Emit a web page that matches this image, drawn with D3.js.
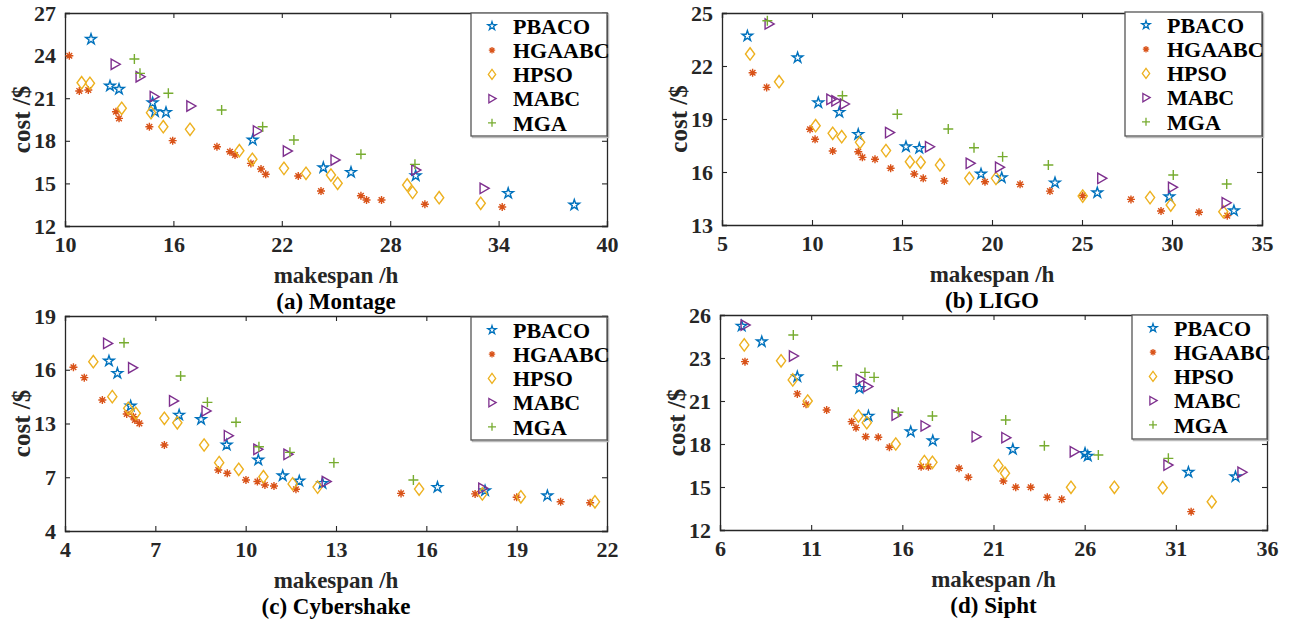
<!DOCTYPE html>
<html>
<head>
<meta charset="utf-8">
<script src="https://cdn.jsdelivr.net/npm/d3@7"></script>
<style>
  body { margin: 0; background: #fff; }
  svg text { font-family: "Liberation Serif", "Times New Roman", serif; font-weight: bold; }
</style>
</head>
<body>
<div id="chart"></div>
<script>
const algorithms = ["PBACO", "HGAABC", "HPSO", "MABC", "MGA"];
const colors = ["#0072BD", "#D95319", "#EDB120", "#7E2F8E", "#77AC30"];
const shapes = ["star", "asterisk", "diamond", "triangle", "plus"];

// [makespan /h, cost /$]
const montagePBACO = [[11.44,25.15],[12.49,21.86],[12.99,21.63],[14.85,20.68],[14.98,20.05],[15.59,20.0],[20.39,18.06],[24.30,16.11],[25.83,15.78],[29.41,15.54],[34.53,14.30],[38.19,13.48]];
const montageHGAABC = [[10.24,23.99],[10.79,21.51],[11.29,21.58],[12.82,20.05],[12.99,19.58],[14.67,18.99],[15.96,18.01],[18.41,17.58],[19.13,17.23],[19.41,17.0],[20.29,16.41],[20.85,16.01],[21.11,15.64],[22.91,15.52],[24.17,14.46],[26.38,14.13],[26.69,13.83],[27.52,13.83],[29.92,13.53],[34.2,13.34]];
const montageHPSO = [[10.92,22.09],[11.38,22.05],[13.14,20.29],[14.76,19.98],[15.44,18.99],[16.92,18.81],[19.65,17.3],[20.37,16.7],[22.12,16.06],[23.34,15.71],[24.72,15.59],[25.09,15.01],[28.94,14.89],[29.24,14.37],[30.71,13.99],[33.01,13.6]];
const montageMABC = [[12.77,23.39],[14.15,22.51],[14.93,21.11],[16.96,20.45],[20.64,18.69],[22.3,17.28],[24.94,16.65],[29.41,15.94],[33.19,14.65]];
const montageMGA = [[13.84,23.76],[14.15,22.75],[15.72,21.35],[18.67,20.17],[20.94,18.99],[22.67,18.06],[26.38,17.05],[29.37,16.34]];

const ligoPBACO = [[6.41,23.7],[9.2,22.47],[10.35,19.92],[11.52,19.38],[12.57,18.13],[15.22,17.43],[15.96,17.34],[19.39,15.89],[20.54,15.68],[23.5,15.39],[25.85,14.83],[29.85,14.6],[33.44,13.81]];
const ligoHGAABC = [[6.7,21.62],[7.48,20.79],[9.89,18.42],[10.17,17.85],[11.15,17.19],[12.57,17.15],[12.8,16.83],[13.5,16.72],[14.37,16.21],[15.68,15.89],[16.18,15.64],[17.35,15.49],[19.61,15.45],[21.56,15.3],[23.22,14.92],[25.04,14.66],[27.72,14.45],[29.39,13.79],[31.5,13.72],[33.07,13.53]];
const ligoHPSO = [[6.56,22.68],[8.17,21.11],[10.2,18.62],[11.15,18.19],[11.65,18.0],[12.67,17.68],[14.11,17.21],[15.44,16.58],[16.04,16.55],[17.11,16.4],[18.74,15.64],[20.22,15.64],[25.04,14.64],[28.78,14.55],[29.93,14.13],[32.85,13.75]];
const ligoMABC = [[7.61,24.38],[11.04,20.11],[11.32,20.03],[11.79,19.85],[14.3,18.23],[16.52,17.43],[18.78,16.49],[20.41,16.27],[26.09,15.64],[30.02,15.13],[33.0,14.26]];
const ligoMGA = [[7.52,24.56],[11.69,20.32],[14.74,19.27],[17.57,18.43],[19.0,17.37],[20.59,16.87],[23.13,16.4],[30.07,15.83],[33.04,15.32]];

const cyberPBACO = [[5.46,16.49],[5.74,15.8],[6.18,13.98],[7.79,13.47],[8.52,13.23],[9.37,10.6],[10.42,8.93],[11.23,7.17],[11.78,6.79],[12.55,6.66],[16.37,6.44],[17.95,6.25],[20.02,5.97]];
const cyberHGAABC = [[4.28,16.14],[4.64,15.56],[5.24,14.31],[6.05,13.53],[6.27,13.38],[6.32,13.2],[6.47,13.01],[7.3,10.6],[9.09,7.81],[9.39,7.44],[10.01,6.85],[10.39,6.76],[10.64,6.57],[10.94,6.51],[11.67,6.33],[15.16,6.1],[17.62,6.07],[19.0,5.88],[20.46,5.63],[21.44,5.58]];
const cyberHPSO = [[4.94,16.45],[5.57,14.5],[6.1,13.85],[6.35,13.57],[7.3,13.29],[7.73,13.04],[8.62,10.6],[9.12,8.63],[9.77,7.89],[10.59,7.06],[11.56,6.63],[12.39,6.45],[15.76,6.34],[17.86,6.07],[19.14,5.91],[21.6,5.63]];
const cyberMABC = [[5.41,17.47],[6.24,16.11],[7.6,14.26],[8.68,13.7],[9.42,11.64],[10.4,10.12],[11.4,9.56],[12.67,6.76],[17.87,6.38]];
const cyberMGA = [[5.96,17.51],[7.84,15.65],[8.73,14.18],[9.68,13.07],[10.44,10.41],[11.47,9.78],[12.93,8.63],[15.57,6.85]];

const siphtPBACO = [[7.19,25.23],[8.29,24.14],[10.24,22.13],[13.64,21.59],[14.14,19.95],[16.46,18.86],[17.67,18.23],[22.06,17.63],[26.02,17.35],[26.17,17.16],[31.69,16.03],[34.27,15.72]];
const siphtHGAABC = [[7.37,22.83],[10.24,21.33],[10.72,20.77],[11.85,20.37],[13.22,19.56],[13.46,19.14],[13.99,18.51],[14.68,18.47],[15.29,17.77],[17.03,16.42],[17.43,16.42],[19.11,16.31],[19.62,15.68],[21.54,15.42],[22.22,14.98],[23.04,14.98],[23.95,14.28],[24.74,14.14],[31.84,13.28]];
const siphtHPSO = [[7.33,23.91],[9.35,22.87],[9.99,21.98],[10.81,21.0],[13.59,19.95],[14.05,19.49],[15.64,18.0],[17.21,16.77],[17.65,16.72],[21.27,16.49],[21.63,15.96],[25.25,14.98],[27.63,14.98],[30.28,14.95],[32.97,13.97]];
const siphtMABC = [[7.37,25.3],[10.02,23.14],[13.68,22.01],[14.1,21.67],[15.65,20.02],[17.24,19.26],[20.04,18.51],[21.67,18.44],[25.42,17.46],[30.56,16.53],[34.62,16.03]];
const siphtMGA = [[10.02,24.6],[12.43,22.64],[13.95,22.33],[14.45,22.1],[15.78,20.21],[17.65,19.95],[21.67,19.67],[23.79,17.88],[26.75,17.23],[30.59,17.0]];

// tick values (the y labels of (c) and (d) are evenly spaced as in the figure)
const montageXTicks = [10, 16, 22, 28, 34, 40];
const montageYTicks = [12, 15, 18, 21, 24, 27];
const ligoXTicks = [5, 10, 15, 20, 25, 30, 35];
const ligoYTicks = [13, 16, 19, 22, 25];
const cyberXTicks = [4, 7, 10, 13, 16, 19, 22];
const cyberYTicks = [4, 7, 13, 16, 19];
const siphtXTicks = [6, 11, 16, 21, 26, 31, 36];
const siphtYTicks = [12, 15, 18, 21, 23, 26];

const captions = ["(a) Montage", "(b) LIGO", "(c) Cybershake", "(d) Sipht"];

const panels = [
  {series: [montagePBACO, montageHGAABC, montageHPSO, montageMABC, montageMGA], xt: montageXTicks, yt: montageYTicks,
   box: [65, 13, 607, 226], legend: [471, 13, 136, 123]},
  {series: [ligoPBACO, ligoHGAABC, ligoHPSO, ligoMABC, ligoMGA], xt: ligoXTicks, yt: ligoYTicks,
   box: [722, 13, 1262, 225], legend: [1125, 12, 137, 124]},
  {series: [cyberPBACO, cyberHGAABC, cyberHPSO, cyberMABC, cyberMGA], xt: cyberXTicks, yt: cyberYTicks,
   box: [65, 316, 607, 531], legend: [471, 317, 136, 123]},
  {series: [siphtPBACO, siphtHGAABC, siphtHPSO, siphtMABC, siphtMGA], xt: siphtXTicks, yt: siphtYTicks,
   box: [720, 315, 1267, 530], legend: [1132, 315, 135, 124]}
];

const svg = d3.select("#chart").append("svg")
    .attr("width", 1295)
    .attr("height", 620);

function markerPath(shape, s) {
  if (shape === "star") {
    return d3.symbol(d3.symbolStar, 34 * s * s)();
  }
  if (shape === "asterisk") {
    let r = 4 * s, q = r * Math.SQRT1_2;
    return `M${-r},0H${r}M0,${-r}V${r}M${-q},${-q}L${q},${q}M${-q},${q}L${q},${-q}`;
  }
  if (shape === "diamond") {
    let w = 4.6 * s, h = 6.2 * s;
    return `M0,${-h}L${w},0L0,${h}L${-w},0Z`;
  }
  if (shape === "triangle") {
    let r = 5.2 * s;
    return `M${-r * 0.75},${-r}L${r},0L${-r * 0.75},${r}Z`;
  }
  let r = 5 * s;
  return `M${-r},0H${r}M0,${-r}V${r}`;
}

panels.forEach(function (p, i) {
  const [x0, y0, x1, y1] = p.box;
  const x = d3.scaleLinear().domain(d3.extent(p.xt)).range([x0, x1]);
  // piecewise scale so the tick labels sit evenly spaced
  const y = d3.scaleLinear().domain(p.yt)
      .range(p.yt.map((d, k) => y1 - k * (y1 - y0) / (p.yt.length - 1)));

  const g = svg.append("g").attr("class", "panel");
  const tickLen = 5;

  // axes: bottom/left with labels, top/right mirrored ticks
  g.append("g").attr("transform", `translate(0,${y1})`)
      .call(d3.axisBottom(x).tickValues(p.xt).tickSize(-tickLen).tickPadding(10).tickFormat(d3.format("d")));
  g.append("g").attr("transform", `translate(0,${y0})`)
      .call(d3.axisTop(x).tickValues(p.xt).tickSize(-tickLen).tickFormat(""));
  g.append("g").attr("transform", `translate(${x0},0)`)
      .call(d3.axisLeft(y).tickValues(p.yt).tickSize(-tickLen).tickPadding(9).tickFormat(d3.format("d")));
  g.append("g").attr("transform", `translate(${x1},0)`)
      .call(d3.axisRight(y).tickValues(p.yt).tickSize(-tickLen).tickFormat(""));

  g.selectAll(".domain").attr("stroke", "#262626").attr("stroke-width", 1.3);
  g.selectAll(".tick line").attr("stroke", "#262626").attr("stroke-width", 1.1);
  g.selectAll(".tick text")
      .attr("font-size", 22)
      .attr("fill", "#262626");

  // data points
  p.series.forEach(function (data, k) {
    g.append("g").selectAll("path")
        .data(data)
        .enter().append("path")
        .attr("transform", d => `translate(${x(d[0])},${y(d[1])})`)
        .attr("d", markerPath(shapes[k], 1))
        .attr("fill", "none")
        .attr("stroke", colors[k])
        .attr("stroke-width", 1.4);
  });

  // axis titles and caption
  g.append("text")
      .attr("x", (x0 + x1) / 2).attr("y", y1 + 57)
      .attr("text-anchor", "middle")
      .attr("font-size", 23).attr("fill", "#262626")
      .text("makespan /h");
  g.append("text")
      .attr("x", (x0 + x1) / 2).attr("y", y1 + 83)
      .attr("text-anchor", "middle")
      .attr("font-size", 23).attr("fill", "#000")
      .text(captions[i]);
  g.append("text")
      .attr("transform", `translate(${x0 - 35},${(y0 + y1) / 2}) rotate(-90)`)
      .attr("text-anchor", "middle")
      .attr("font-size", 25).attr("fill", "#262626")
      .text("cost /$");

  // legend
  const [lx, ly, lw, lh] = p.legend;
  const leg = g.append("g").attr("transform", `translate(${lx},${ly})`);
  leg.append("rect")
      .attr("x", 1.5).attr("y", 1.5).attr("width", lw).attr("height", lh)
      .attr("fill", "none").attr("stroke", "#bbb").attr("stroke-width", 1.5);
  leg.append("rect")
      .attr("width", lw).attr("height", lh)
      .attr("fill", "#fff").attr("stroke", "#555").attr("stroke-width", 1.3);
  algorithms.forEach(function (name, k) {
    const row = leg.append("g").attr("transform", `translate(0,${13 + k * 24.2})`);
    row.append("path")
        .attr("transform", "translate(21,0)")
        .attr("d", markerPath(shapes[k], 0.8))
        .attr("fill", "none")
        .attr("stroke", colors[k])
        .attr("stroke-width", 1.3);
    row.append("text")
        .attr("x", 42).attr("y", 0).attr("dy", "0.35em")
        .attr("font-size", 22).attr("fill", "#000")
        .text(name);
  });
});
</script>
</body>
</html>
